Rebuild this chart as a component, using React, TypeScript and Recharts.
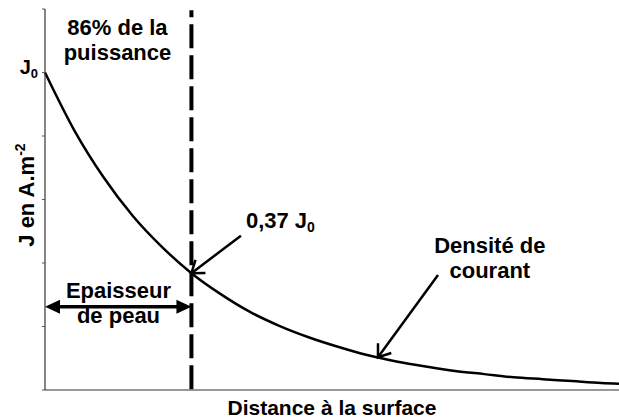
import React from 'react';
import { LineChart, Line, XAxis, YAxis, ReferenceLine, ReferenceDot } from 'recharts';

// Distance (in tick units) and current density
const distance = [0, 1, 2, 3, 4, 5, 6, 7, 8, 9, 10, 11, 12, 13, 14, 15, 16, 17, 18, 19, 19.6];
const density = [5.0, 4.09, 3.35, 2.74, 2.25, 1.84, 1.51, 1.23, 1.01, 0.83, 0.68, 0.55, 0.45, 0.37, 0.3, 0.25, 0.2, 0.17, 0.14, 0.11, 0.1];
const xTicks = [0, 1, 2, 3, 4, 5, 6, 7, 8, 9, 10, 11, 12, 13, 14, 15, 16, 17, 18, 19];
const yTicks = [0, 1, 2, 3, 4, 5, 6];
const J0 = 5;
const skinDepth = 5;
const J37 = 1.84;
const arrowPoint = { x: 11.37, y: 0.515 };

const data = distance.map((x, i) => ({ x, j: density[i] }));

const FONT = '"Liberation Sans", Arial, sans-serif';
const textStyle = { fontFamily: FONT, fontWeight: 700, fontSize: 22, fill: '#000' } as const;

const openArrow = (props: any) => {
  const { x1, y1, x2, y2 } = props;
  const ang = Math.atan2(y2 - y1, x2 - x1);
  const L = 14;
  const a = Math.PI / 5;
  const p1 = `${x2 - L * Math.cos(ang - a)},${y2 - L * Math.sin(ang - a)}`;
  const p2 = `${x2 - L * Math.cos(ang + a)},${y2 - L * Math.sin(ang + a)}`;
  return (
    <g>
      <line x1={x1} y1={y1} x2={x2} y2={y2} stroke="#000" strokeWidth={2.5} />
      <polyline points={`${p1} ${x2},${y2} ${p2}`} fill="none" stroke="#000" strokeWidth={2.5} />
    </g>
  );
};

const doubleArrow = (props: any) => {
  const { x1, y1, x2, y2 } = props;
  const L = 15;
  const h = 7;
  return (
    <g>
      <line x1={x1 + L - 2} y1={y1} x2={x2 - L + 2} y2={y2} stroke="#000" strokeWidth={3.5} />
      <polygon points={`${x1},${y1} ${x1 + L},${y1 - h} ${x1 + L},${y1 + h}`} fill="#000" />
      <polygon points={`${x2},${y2} ${x2 - L},${y2 - h} ${x2 - L},${y2 + h}`} fill="#000" />
    </g>
  );
};

const dashedLine = (props: any) => {
  const { x1, y1, x2, y2 } = props;
  return (
    <line x1={x1} y1={y1} x2={x2} y2={y2} stroke="#000" strokeWidth={4} strokeDasharray="24 7" strokeDashoffset={17} />
  );
};

const YTick = (props: any) => {
  const { x, y, payload } = props;
  if (payload.value !== J0) return <g />;
  return (
    <text x={x} y={y + 1} textAnchor="end" style={{ ...textStyle, fontSize: 20 }}>
      J<tspan fontSize={13} dy={4}>0</tspan>
    </text>
  );
};

export default function App() {
  return (
    <div style={{ position: 'absolute', left: 0, top: 0, background: '#fff' }}>
      <LineChart width={619} height={419} data={data} margin={{ top: 9, right: 0, bottom: 29, left: 0 }}>
        <XAxis
          dataKey="x"
          type="number"
          domain={[0, 19.6]}
          ticks={xTicks}
          mirror
          tick={false}
          tickSize={3}
          axisLine={{ stroke: '#333', strokeWidth: 1.2 }}
          tickLine={{ stroke: '#555' }}
        />
        <YAxis
          type="number"
          domain={[0, 6]}
          ticks={yTicks}
          width={45}
          tickSize={3}
          tickMargin={4}
          tick={<YTick />}
          axisLine={{ stroke: '#333', strokeWidth: 1.2 }}
          tickLine={{ stroke: '#555' }}
        />
        <Line dataKey="j" type="monotone" stroke="#000" strokeWidth={2.5} dot={false} activeDot={false} isAnimationActive={false} />
        <ReferenceLine
          segment={[{ x: skinDepth, y: 5.98 }, { x: skinDepth, y: -0.05 }]}
          ifOverflow="visible"
          shape={dashedLine}
        />
        <ReferenceLine
          segment={[{ x: 6.69, y: 2.43 }, { x: skinDepth, y: J37 }]}
          ifOverflow="visible"
          shape={openArrow}
        />
        <ReferenceLine
          segment={[{ x: 13.42, y: 1.81 }, arrowPoint]}
          ifOverflow="visible"
          shape={openArrow}
        />
        <ReferenceLine
          segment={[{ x: 0, y: 1.31 }, { x: skinDepth, y: 1.31 }]}
          ifOverflow="visible"
          shape={doubleArrow}
        />
        <ReferenceDot
          x={2.475}
          y={5.59}
          r={0}
          ifOverflow="visible"
          shape={(p: any) => (
            <text x={p.cx} y={p.cy} textAnchor="middle" style={textStyle}>
              <tspan x={p.cx}>86% de la</tspan>
              <tspan x={p.cx} dy={25}>puissance</tspan>
            </text>
          )}
        />
        <ReferenceDot
          x={2.51}
          y={1.449}
          r={0}
          ifOverflow="visible"
          shape={(p: any) => (
            <text x={p.cx} y={p.cy} textAnchor="middle" style={textStyle}>
              <tspan x={p.cx}>Epaisseur</tspan>
              <tspan x={p.cx} dy={25}>de peau</tspan>
            </text>
          )}
        />
        <ReferenceDot
          x={6.86}
          y={2.55}
          r={0}
          ifOverflow="visible"
          shape={(p: any) => (
            <text x={p.cx} y={p.cy} textAnchor="start" style={textStyle}>
              0,37 J<tspan fontSize={14} dy={4}>0</tspan>
            </text>
          )}
        />
        <ReferenceDot
          x={15.19}
          y={2.157}
          r={0}
          ifOverflow="visible"
          shape={(p: any) => (
            <text x={p.cx} y={p.cy} textAnchor="middle" style={textStyle}>
              <tspan x={p.cx}>Densité de</tspan>
              <tspan x={p.cx} dy={25}>courant</tspan>
            </text>
          )}
        />
        <ReferenceDot
          x={9.8}
          y={-0.394}
          r={0}
          ifOverflow="visible"
          shape={(p: any) => (
            <text x={p.cx} y={p.cy} textAnchor="middle" style={{ ...textStyle, fontSize: 21 }}>
              Distance à la surface
            </text>
          )}
        />
        <ReferenceDot
          x={-0.376}
          y={3.07}
          r={0}
          ifOverflow="visible"
          shape={(p: any) => (
            <text x={p.cx} y={p.cy} textAnchor="middle" transform={`rotate(-90 ${p.cx} ${p.cy})`} style={textStyle}>
              J en A.m<tspan fontSize={14} dy={-9}>-2</tspan>
            </text>
          )}
        />
      </LineChart>
    </div>
  );
}
